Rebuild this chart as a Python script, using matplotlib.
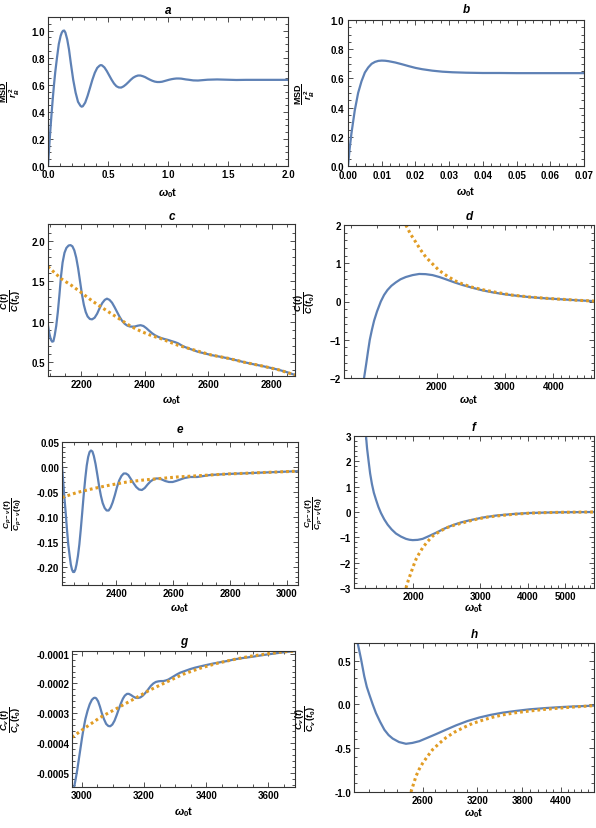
import matplotlib
matplotlib.use("Agg")
import matplotlib.pyplot as plt
from matplotlib.ticker import FixedLocator, MultipleLocator, NullFormatter, FormatStrFormatter

plt.rcParams['font.family'] = ['Liberation Sans', 'DejaVu Sans']
plt.rcParams['font.weight'] = 'bold'
plt.rcParams['mathtext.fontset'] = 'custom'
plt.rcParams['mathtext.rm'] = 'Liberation Sans:bold'
plt.rcParams['mathtext.it'] = 'Liberation Sans:italic:bold'
plt.rcParams['mathtext.bf'] = 'Liberation Sans:bold'

BLUE = '#5e81b5'
ORANGE = '#e19c24'
W, H = 596, 829

# ---- panel a: MSD / r_B^2 vs w0 t
a_t = [0, 0.01, 0.02, 0.03, 0.04, 0.05, 0.06, 0.075, 0.09, 0.105, 0.115, 0.125, 0.135, 0.145,
       0.16, 0.175, 0.19, 0.21, 0.23, 0.25, 0.27, 0.28, 0.29, 0.31, 0.33, 0.35, 0.37, 0.39,
       0.41, 0.43, 0.44, 0.45, 0.47, 0.49, 0.51, 0.53, 0.55, 0.57, 0.59, 0.61, 0.63, 0.65,
       0.67, 0.69, 0.71, 0.73, 0.75, 0.77, 0.79, 0.81, 0.83, 0.85, 0.87, 0.89, 0.91, 0.93,
       0.95, 0.97, 0.99, 1.01, 1.03, 1.05, 1.07, 1.09, 1.11, 1.13, 1.15, 1.17, 1.21, 1.25,
       1.29, 1.33, 1.41, 1.49, 1.57, 1.65, 2.0]
a_msd = [0, 0.14, 0.27, 0.39, 0.5, 0.6, 0.69, 0.8, 0.9, 0.96, 0.985, 0.998, 1.0, 0.985,
         0.935, 0.86, 0.76, 0.637, 0.542, 0.474, 0.445, 0.438, 0.441, 0.468, 0.518, 0.577, 0.637, 0.688,
         0.724, 0.741, 0.745, 0.743, 0.728, 0.701, 0.669, 0.637, 0.609, 0.589, 0.58, 0.579, 0.588, 0.602,
         0.619, 0.637, 0.652, 0.662, 0.668, 0.668, 0.663, 0.656, 0.646, 0.637, 0.629, 0.623, 0.62, 0.62,
         0.622, 0.627, 0.632, 0.637, 0.641, 0.644, 0.646, 0.646, 0.645, 0.642, 0.639, 0.637, 0.632, 0.631,
         0.634, 0.637, 0.639, 0.637, 0.635, 0.636, 0.636]

# ---- panel b
b_t = [0, 0.0005, 0.001, 0.002, 0.003, 0.004, 0.005, 0.006, 0.007, 0.008, 0.009, 0.010, 0.011,
       0.012, 0.014, 0.016, 0.018, 0.020, 0.022, 0.025, 0.028, 0.031, 0.035, 0.040, 0.045, 0.05,
       0.06, 0.07]
b_msd = [0, 0.12, 0.22, 0.38, 0.5, 0.58, 0.64, 0.675, 0.7, 0.713, 0.72, 0.722, 0.721,
         0.718, 0.709, 0.697, 0.684, 0.672, 0.663, 0.653, 0.646, 0.642, 0.639, 0.637, 0.637, 0.636,
         0.636, 0.636]

# ---- panel c: C(t)/C(t0)
c_t = [2094.7, 2099, 2104, 2108, 2112, 2116, 2121, 2126, 2131, 2136, 2141, 2147, 2153, 2160,
       2166, 2172, 2178, 2184, 2190, 2196, 2202, 2208, 2214, 2220, 2227, 2234, 2242, 2250,
       2258, 2266, 2274, 2281, 2289, 2297, 2305, 2313, 2321, 2329, 2337, 2345, 2353, 2361,
       2369, 2378, 2387, 2396, 2405, 2414, 2423, 2432, 2442, 2452, 2462, 2473, 2484, 2495,
       2505, 2516, 2526, 2547, 2568, 2590, 2610, 2637, 2663, 2690, 2716, 2742, 2768, 2795,
       2821, 2848, 2874]
c_exact = [0.96, 0.86, 0.78, 0.755, 0.76, 0.83, 0.95, 1.12, 1.33, 1.56, 1.73, 1.85, 1.91, 1.94,
           1.945, 1.93, 1.88, 1.79, 1.66, 1.5, 1.34, 1.21, 1.12, 1.065, 1.035, 1.03, 1.05, 1.1,
           1.17, 1.23, 1.27, 1.285, 1.27, 1.235, 1.18, 1.12, 1.06, 1.01, 0.975, 0.953, 0.942, 0.94,
           0.942, 0.952, 0.958, 0.948, 0.922, 0.89, 0.86, 0.835, 0.815, 0.8, 0.788, 0.777, 0.763, 0.75,
           0.735, 0.71, 0.69, 0.66, 0.63, 0.61, 0.59, 0.57, 0.55, 0.525, 0.5, 0.478, 0.457, 0.434,
           0.41, 0.38, 0.345]
c_t_asym = [2094.7, 2136.8, 2168.4, 2200, 2231.6, 2263.2, 2294.7, 2326.3, 2357.9, 2389.5, 2421,
            2452.6, 2505.3, 2557.9, 2610.5, 2663.2, 2715.8, 2768.4, 2821, 2874]
c_asym = [1.68, 1.53, 1.45, 1.36, 1.265, 1.18, 1.1, 1.02, 0.94, 0.88, 0.83,
          0.79, 0.71, 0.65, 0.59, 0.55, 0.5, 0.457, 0.41, 0.345]

# ---- panel d
d_t = [1296, 1305, 1314, 1327, 1341, 1358, 1376, 1400, 1432, 1460, 1490, 1525, 1566, 1610,
       1662, 1730, 1800, 1870, 1949, 2030, 2111, 2220, 2332, 2480, 2628, 2800, 2991, 3220,
       3473, 3850, 4238, 4650, 5100]
d_exact = [-2.0, -1.8, -1.6, -1.3, -1.0, -0.74, -0.5, -0.26, 0.0, 0.17, 0.3, 0.41, 0.5, 0.58,
           0.64, 0.69, 0.72, 0.715, 0.69, 0.64, 0.58, 0.5, 0.43, 0.355, 0.29, 0.235, 0.19, 0.15,
           0.115, 0.08, 0.055, 0.03, 0.01]
d_t_asym = [1662, 1710, 1764, 1815, 1873, 1950, 2028, 2130, 2241, 2355, 2475, 2650, 2846, 3130,
            3473, 3850, 4238, 4650, 5100]
d_asym = [2.0, 1.76, 1.55, 1.35, 1.16, 0.98, 0.81, 0.66, 0.53, 0.44, 0.37, 0.3, 0.24, 0.168,
          0.118, 0.082, 0.056, 0.031, 0.01]

# ---- panel e: C_{p-v}
e_t = [2209, 2213, 2217, 2222, 2226.5, 2231, 2236, 2240, 2244, 2248, 2252, 2256, 2260, 2265,
       2270, 2275, 2280, 2285, 2291, 2296, 2301, 2306, 2311, 2316, 2321, 2327, 2334, 2340,
       2346, 2352, 2359, 2366, 2373, 2380, 2387, 2395, 2402, 2410, 2418, 2426, 2434, 2442,
       2450, 2460, 2470, 2480, 2490, 2500, 2510, 2520, 2530, 2540, 2550, 2560, 2572, 2585,
       2598, 2610, 2625, 2640, 2660, 2684, 2707, 2730, 2789, 2848, 2906, 2965, 3039]
e_exact = [0.002, -0.028, -0.058, -0.092, -0.125, -0.155, -0.178, -0.195, -0.205, -0.21, -0.21,
           -0.205, -0.195, -0.178, -0.155, -0.125, -0.092, -0.058, -0.022, 0.003, 0.02, 0.03,
           0.033, 0.031, 0.022, 0.006, -0.018, -0.04, -0.058, -0.072, -0.082, -0.087, -0.087,
           -0.081, -0.071, -0.056, -0.041, -0.027, -0.018, -0.013, -0.013, -0.016, -0.023, -0.032,
           -0.04, -0.045, -0.046, -0.042, -0.035, -0.029, -0.025, -0.023, -0.023, -0.025, -0.028,
           -0.03, -0.03, -0.028, -0.025, -0.022, -0.02, -0.02, -0.018, -0.016, -0.014, -0.0127,
           -0.0113, -0.01, -0.0083]
e_t_asym = [2209, 2261.7, 2320, 2379, 2437.5, 2496, 2554.7, 2613, 2672, 2730.5, 2789, 2848,
            2906, 2965, 3039]
e_asym = [-0.061, -0.051, -0.043, -0.036, -0.03, -0.026, -0.023, -0.02, -0.018, -0.016, -0.014,
          -0.0127, -0.0113, -0.01, -0.0083]

# ---- panel f
f_t = [1505, 1515, 1529, 1543, 1560, 1578, 1599, 1622, 1647, 1680, 1715, 1757, 1803, 1858,
       1915, 1955, 1994, 2055, 2118, 2200, 2295, 2410, 2538, 2670, 2806, 3040, 3296, 3650,
       4029, 4450, 4926, 5939]
f_exact = [3.0, 2.5, 2.0, 1.52, 1.1, 0.76, 0.48, 0.2, -0.04, -0.29, -0.5, -0.69, -0.85, -0.97,
           -1.06, -1.095, -1.11, -1.1, -1.06, -0.95, -0.82, -0.66, -0.52, -0.41, -0.33, -0.22,
           -0.14, -0.08, -0.04, -0.022, -0.01, 0.0]
f_t_asym = [1915, 1944, 1974, 2004, 2034, 2075, 2118, 2180, 2250, 2340, 2438, 2560, 2696, 2800,
            2921, 3100, 3296, 3650, 4029, 4450, 4926, 5939]
f_asym = [-3.0, -2.68, -2.4, -2.12, -1.87, -1.63, -1.41, -1.17, -0.95, -0.78, -0.63, -0.52, -0.43,
          -0.36, -0.29, -0.21, -0.16, -0.092, -0.046, -0.024, -0.011, 0.0]

# ---- panel g: C_v, values in units of 1e-4
g_t = [2975, 2980, 2985, 2990, 2995, 3000, 3005, 3011, 3018, 3025, 3032, 3038, 3042, 3046,
       3052, 3058, 3064, 3071, 3078, 3085, 3091, 3098, 3105, 3112, 3118, 3125, 3132, 3138,
       3145, 3151, 3158, 3165, 3172, 3180, 3188, 3196, 3205, 3214, 3222, 3230, 3238, 3246,
       3254, 3262, 3270, 3278, 3286, 3294, 3305, 3316, 3332, 3348, 3364, 3380, 3401, 3423,
       3444, 3466, 3487, 3508, 3530, 3551, 3572, 3594, 3615, 3637, 3660, 3686]
g_exact = [-5.48, -5.2, -4.9, -4.55, -4.2, -3.85, -3.53, -3.2, -2.92, -2.7, -2.55, -2.49, -2.48,
           -2.5, -2.6, -2.78, -3.0, -3.2, -3.36, -3.43, -3.44, -3.38, -3.25, -3.06, -2.88, -2.68,
           -2.51, -2.41, -2.35, -2.35, -2.39, -2.44, -2.48, -2.49, -2.47, -2.41, -2.31, -2.19,
           -2.08, -2.0, -1.95, -1.93, -1.92, -1.92, -1.9, -1.87, -1.82, -1.77, -1.7, -1.64, -1.58,
           -1.52, -1.47, -1.43, -1.38, -1.33, -1.29, -1.25, -1.2, -1.16, -1.13, -1.1, -1.065,
           -1.03, -1.0, -0.97, -0.94, -0.91]
g_t_asym = [2968, 3005, 3059, 3112, 3166, 3219, 3273, 3326, 3380, 3433, 3487, 3540, 3594, 3647, 3686]
g_asym = [-3.81, -3.53, -3.14, -2.84, -2.53, -2.22, -1.95, -1.69, -1.49, -1.33, -1.2, -1.09, -1.01,
          -0.94, -0.91]

# ---- panel h
h_t = [2028, 2041, 2054, 2067, 2080, 2100, 2121, 2148, 2175, 2210, 2246, 2282, 2318, 2375,
       2439, 2500, 2567, 2650, 2735, 2840, 2952, 3085, 3227, 3370, 3528, 3710, 3906, 4160,
       4436, 4700, 4993]
h_exact = [0.7, 0.61, 0.52, 0.42, 0.32, 0.2, 0.11, 0.0, -0.1, -0.2, -0.29, -0.35, -0.39, -0.43,
           -0.45, -0.44, -0.42, -0.38, -0.34, -0.29, -0.24, -0.19, -0.15, -0.12, -0.095, -0.075,
           -0.057, -0.042, -0.03, -0.022, -0.015]
h_t_asym = [2486, 2510, 2534, 2565, 2600, 2650, 2701, 2770, 2842, 2930, 3028, 3140, 3269, 3390,
            3528, 3710, 3906, 4160, 4436, 4700, 4993]
h_asym = [-1.0, -0.91, -0.82, -0.74, -0.67, -0.59, -0.515, -0.445, -0.38, -0.32, -0.27, -0.22,
          -0.18, -0.148, -0.12, -0.095, -0.076, -0.056, -0.04, -0.027, -0.015]

lbl_msd = r'$\dfrac{\mathrm{MSD}}{r_B^{\ 2}}$'
lbl_c = r'$\dfrac{C\,(t)}{C\,(t_0)}$'
lbl_cpv = r'$\dfrac{C_{p-v}\,(t)}{C_{p-v}\,(t_0)}$'
lbl_cv = r'$\dfrac{C_v\,(t)}{C_v\,(t_0)}$'
lbl_x = r'$\omega_0$t'


def make_ax(fig, box, title, ylabel, ylab_x, xlab_y, title_y, ylab_size=6.5):
    l, t, r, b = box
    ax = fig.add_axes([l / W, 1 - b / H, (r - l) / W, (b - t) / H])
    for s in ax.spines.values():
        s.set_color('#333333')
        s.set_linewidth(0.8)
    ax.tick_params(which='both', direction='in', top=True, right=True, labelsize=7,
                   pad=2, width=0.6, color='#333333')
    ax.tick_params(which='major', length=3.5)
    ax.tick_params(which='minor', length=2)
    fig.text((l + r) / 2 / W, 1 - title_y / H, title, style='italic', fontsize=8.5,
             ha='center', va='center')
    fig.text((l + r) / 2 / W, 1 - xlab_y / H, lbl_x, fontsize=8, ha='center', va='center')
    fig.text(ylab_x / W, 1 - (t + b) / 2 / H, ylabel, fontsize=ylab_size, rotation=90,
             ha='center', va='center')
    return ax


def log_x(ax, major, minor):
    ax.set_xscale('log')
    ax.xaxis.set_major_locator(FixedLocator(major))
    ax.xaxis.set_minor_locator(FixedLocator(minor))
    ax.xaxis.set_major_formatter(FormatStrFormatter('%d'))
    ax.xaxis.set_minor_formatter(NullFormatter())


fig = plt.figure(figsize=(W / 100, H / 100), dpi=100)
line = dict(color=BLUE, lw=1.6, solid_joinstyle='round')
dots = dict(color=ORANGE, lw=2.2, ls=(0, (0.9, 1.0)), dash_capstyle='butt')

# a
ax = make_ax(fig, (48, 18, 288, 167), 'a', lbl_msd, 10, 193, 11)
ax.plot(a_t, a_msd, **line)
ax.set_xlim(0, 2)
ax.set_ylim(0, 1.1)
ax.xaxis.set_major_locator(MultipleLocator(0.5))
ax.xaxis.set_minor_locator(MultipleLocator(0.1))
ax.yaxis.set_major_locator(MultipleLocator(0.2))
ax.yaxis.set_minor_locator(MultipleLocator(0.05))
ax.xaxis.set_major_formatter(FormatStrFormatter('%.1f'))
ax.yaxis.set_major_formatter(FormatStrFormatter('%.1f'))

# b
ax = make_ax(fig, (348, 21, 584, 167), 'b', lbl_msd, 305, 192, 10)
ax.plot(b_t, b_msd, **line)
ax.set_xlim(0, 0.07)
ax.set_ylim(0, 1.0)
ax.xaxis.set_major_locator(MultipleLocator(0.01))
ax.xaxis.set_minor_locator(MultipleLocator(0.0025))
ax.yaxis.set_major_locator(MultipleLocator(0.2))
ax.yaxis.set_minor_locator(MultipleLocator(0.05))
ax.xaxis.set_major_formatter(FormatStrFormatter('%.2f'))
ax.yaxis.set_major_formatter(FormatStrFormatter('%.1f'))
ax.tick_params(axis='y', pad=3)
ax.tick_params(axis='x', pad=3)

# c
ax = make_ax(fig, (48, 225, 295, 377), 'c', lbl_c, 11, 400, 217)
ax.plot(c_t, c_exact, **line)
ax.plot(c_t_asym, c_asym, **dots)
ax.set_xlim(2095, 2874)
ax.set_ylim(0.332, 2.205)
ax.xaxis.set_major_locator(MultipleLocator(200))
ax.xaxis.set_minor_locator(MultipleLocator(50))
ax.yaxis.set_major_locator(MultipleLocator(0.5))
ax.yaxis.set_minor_locator(MultipleLocator(0.1))
ax.yaxis.set_major_formatter(FormatStrFormatter('%.1f'))

# d
ax = make_ax(fig, (344, 226, 594, 379), 'd', lbl_c, 305, 400, 217)
ax.plot(d_t, d_exact, **line)
ax.plot(d_t_asym, d_asym, **dots)
log_x(ax, [2000, 3000, 4000], [1200, 1400, 1600, 1800, 2200, 2400, 2600, 2800, 3200, 3400,
                               3600, 3800, 4200, 4400, 4600, 4800, 5000])
ax.set_xlim(1150, 5100)
ax.set_ylim(-2, 2)
ax.yaxis.set_major_locator(MultipleLocator(1))
ax.yaxis.set_minor_locator(MultipleLocator(0.2))

# e
ax = make_ax(fig, (62, 443, 298, 586), 'e', lbl_cpv, 13, 608, 430, ylab_size=6)
ax.plot(e_t, e_exact, **line)
ax.plot(e_t_asym, e_asym, **dots)
ax.set_xlim(2209, 3039)
ax.set_ylim(-0.236, 0.05)
ax.xaxis.set_major_locator(MultipleLocator(200))
ax.xaxis.set_minor_locator(MultipleLocator(50))
ax.yaxis.set_major_locator(MultipleLocator(0.05))
ax.yaxis.set_minor_locator(MultipleLocator(0.01))
ax.yaxis.set_major_formatter(FormatStrFormatter('%.2f'))

# f
ax = make_ax(fig, (354, 437, 594, 589), 'f', lbl_cpv, 314, 608, 428, ylab_size=6)
ax.plot(f_t, f_exact, **line)
ax.plot(f_t_asym, f_asym, **dots)
log_x(ax, [2000, 3000, 4000, 5000], [1500, 1600, 1700, 1800, 1900, 2200, 2400, 2600, 2800,
                                     3200, 3400, 3600, 3800, 4200, 4400, 4600, 4800, 5200,
                                     5400, 5600, 5800])
ax.set_xlim(1400, 5950)
ax.set_ylim(-3, 3)
ax.yaxis.set_major_locator(MultipleLocator(1))
ax.yaxis.set_minor_locator(MultipleLocator(0.2))

# g
ax = make_ax(fig, (72, 652, 295, 788), 'g', lbl_cv, 11, 812, 642)
ax.plot(g_t, [v * 1e-4 for v in g_exact], **line)
ax.plot(g_t_asym, [v * 1e-4 for v in g_asym], **dots)
ax.set_xlim(2968, 3686)
ax.set_ylim(-0.000548, -0.000091)
ax.xaxis.set_major_locator(MultipleLocator(200))
ax.xaxis.set_minor_locator(MultipleLocator(50))
ax.yaxis.set_major_locator(MultipleLocator(0.0001))
ax.yaxis.set_minor_locator(MultipleLocator(0.00002))
ax.yaxis.set_major_formatter(FormatStrFormatter('%.4f'))

# h
ax = make_ax(fig, (354, 644, 594, 793), 'h', lbl_cv, 306, 813, 635)
ax.plot(h_t, h_exact, **line)
ax.plot(h_t_asym, h_asym, **dots)
log_x(ax, [2600, 3200, 3800, 4400], [2120, 2240, 2360, 2480, 2720, 2840, 2960, 3080, 3320,
                                     3440, 3560, 3680, 3920, 4040, 4160, 4280, 4520, 4640,
                                     4760, 4880])
ax.set_xlim(2000, 5000)
ax.set_ylim(-1.0, 0.7)
ax.yaxis.set_major_locator(MultipleLocator(0.5))
ax.yaxis.set_minor_locator(MultipleLocator(0.1))
ax.yaxis.set_major_formatter(FormatStrFormatter('%.1f'))

fig.savefig('out.png', dpi=100)
